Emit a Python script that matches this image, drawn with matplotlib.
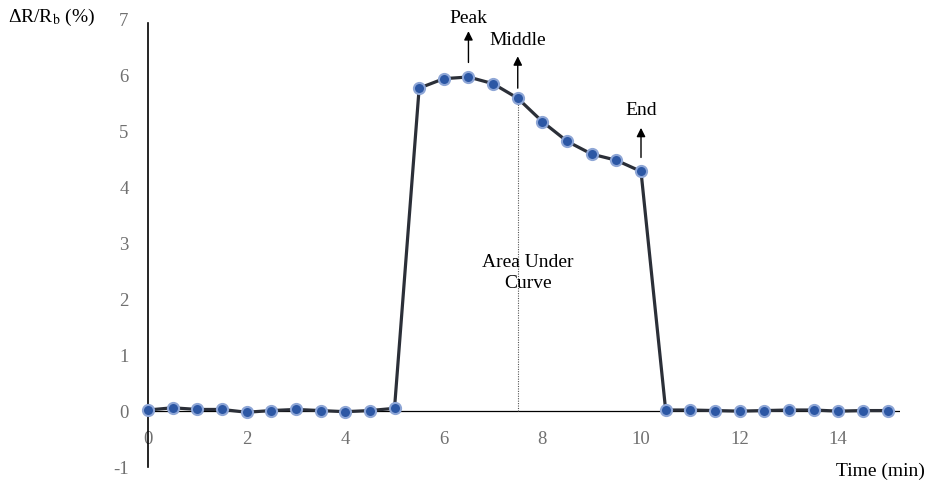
import matplotlib
matplotlib.use("Agg")
import matplotlib.pyplot as plt

plt.rcParams['font.family'] = ['Liberation Serif', 'DejaVu Serif']
plt.rcParams['mathtext.fontset'] = 'stix'
plt.rcParams['axes.unicode_minus'] = False

time_min = [0, 0.5, 1, 1.5, 2, 2.5, 3, 3.5, 4, 4.5, 5,
            5.5, 6, 6.5, 7, 7.5, 8, 8.5, 9, 9.5, 10,
            10.5, 11, 11.5, 12, 12.5, 13, 13.5, 14, 14.5, 15]
dr_pct = [0.02, 0.06, 0.03, 0.03, -0.02, 0.01, 0.03, 0.01, -0.01, 0.01, 0.05,
          5.78, 5.95, 5.98, 5.86, 5.60, 5.18, 4.83, 4.60, 4.49, 4.29,
          0.02, 0.02, 0.01, 0.00, 0.01, 0.02, 0.02, 0.00, 0.01, 0.01]
x_ticks = [0, 2, 4, 6, 8, 10, 12, 14]
y_ticks = [-1, 0, 1, 2, 3, 4, 5, 6, 7]

# annotations: (label, x, arrow_start_y, arrow_end_y, text_y)
annots = [("Peak", 6.5, 6.24, 6.80, 7.03),
          ("Middle", 7.5, 5.78, 6.35, 6.64),
          ("End", 10.0, 4.54, 5.07, 5.38)]
middle_x = 7.5
middle_y = 5.60

W, H = 927, 486
fig = plt.figure(figsize=(W / 100, H / 100), dpi=100)
x0, x1 = 148, 900
y_top, y_bot = 20, 467
ax = fig.add_axes([x0 / W, 1 - y_bot / H, (x1 - x0) / W, (y_bot - y_top) / H])
ax.set_xlim(0, (x1 - x0) / 49.3)
ax.set_ylim(-1, 7)

for s in ['top', 'right', 'bottom']:
    ax.spines[s].set_visible(False)
ax.spines['left'].set_color('black')
ax.spines['left'].set_linewidth(1.2)
ax.spines['left'].set_bounds(-1, 6.95)
ax.axhline(0, color='black', lw=0.9, zorder=1)

ax.set_xticks(x_ticks)
ax.set_yticks(y_ticks)
ax.tick_params(axis='both', length=0, labelsize=13.5, labelcolor='#707070')
ax.tick_params(axis='y', pad=14)
ax.tick_params(axis='x', pad=-26)

ax.vlines(middle_x, 0, middle_y, colors='#555555', linestyles=(0, (1, 1.2)), lw=0.8, zorder=1)

ax.plot(time_min, dr_pct, color='#2b2f38', lw=2.3, marker='o', markersize=8,
        markerfacecolor='#2c57a4', markeredgecolor='#8ea6d6', markeredgewidth=1.5,
        zorder=3, clip_on=False)

for label, x, ys, ye, ty in annots:
    ax.annotate('', xy=(x, ye), xytext=(x, ys),
                arrowprops=dict(arrowstyle='-|>', color='black', lw=1.0,
                                mutation_scale=13, shrinkA=0, shrinkB=0))
    ax.text(x, ty, label, ha='center', va='center', fontsize=14, color='black')

ax.text(7.71, 2.47, "Area Under\nCurve", ha='center', va='center', fontsize=14,
        color='black', linespacing=1.3)

fig.text(8 / W, 1 - 17 / H, "ΔR/R$_{\\mathrm{b}}$ (%)", ha='left', va='center',
         fontsize=14, color='black')
fig.text(925 / W, 1 - 471 / H, "Time (min)", ha='right', va='center',
         fontsize=14, color='black')

fig.savefig("out.png", dpi=100, facecolor='white')
